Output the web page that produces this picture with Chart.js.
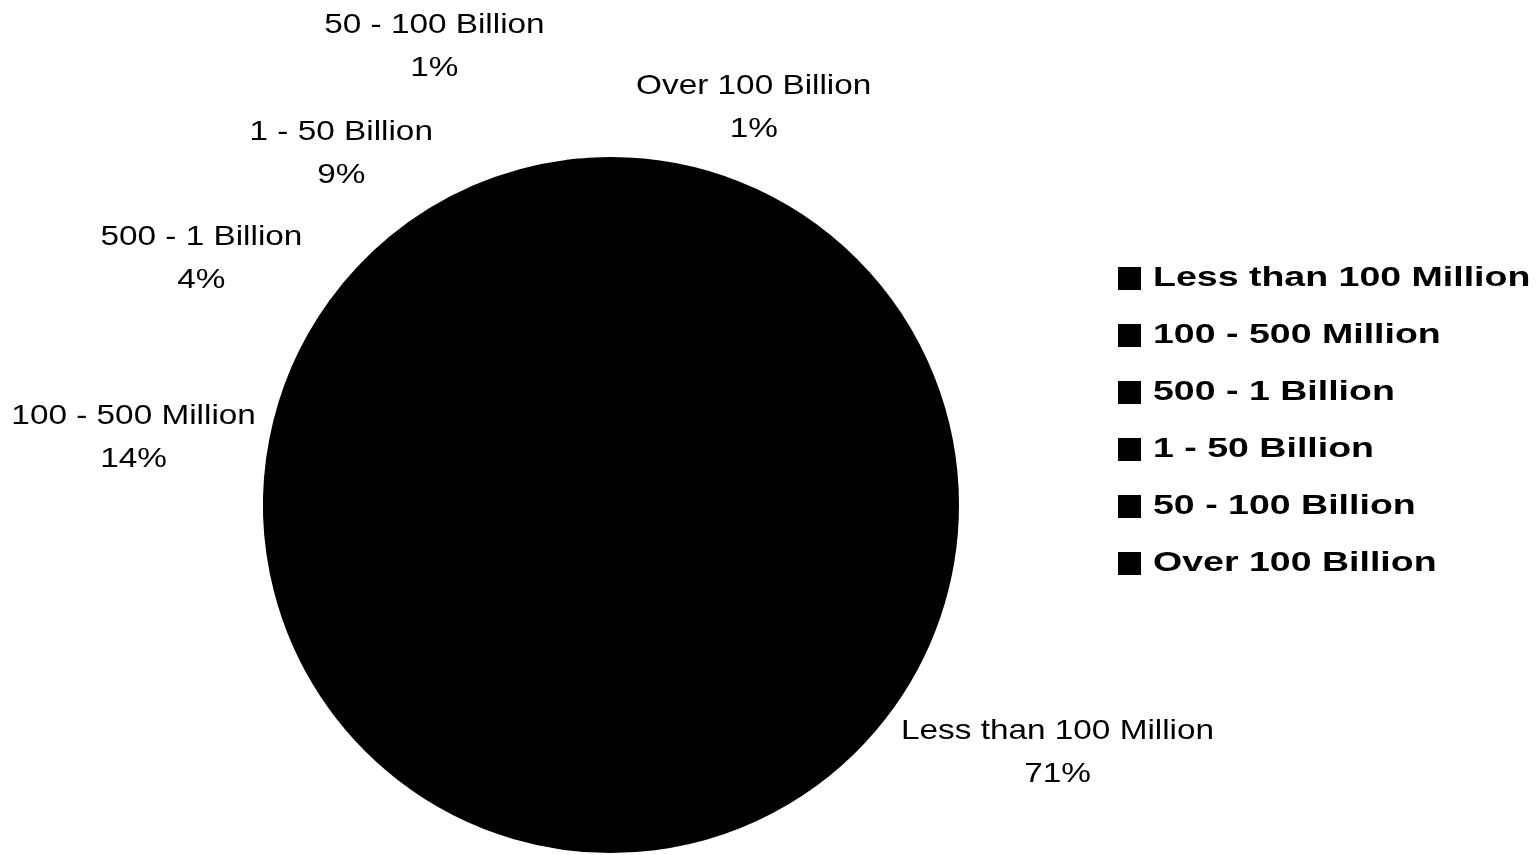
<!DOCTYPE html>
<html>
<head>
<meta charset="utf-8">
<script src="https://cdn.jsdelivr.net/npm/chart.js@4/dist/chart.umd.min.js"></script>
<style>
    html, body { margin: 0; padding: 0; background: #fff; }
    #wrap { width: 1540px; height: 855px; }
</style>
</head>
<body>
<div id="wrap"><canvas id="assetPie"></canvas></div>
<script>
// Asset size groups and their share (%)
const sizeGroups = ['Less than 100 Million', '100 - 500 Million', '500 - 1 Billion', '1 - 50 Billion', '50 - 100 Billion', 'Over 100 Billion'];
const shares = [71, 14, 4, 9, 1, 1];

// where each slice label sits: angle clockwise from 12 o'clock, distance in pie radii
const labelSpots = [
    { angle: 118.9, dist: 1.47 },
    { angle: 278.2, dist: 1.39 },
    { angle: 301.2, dist: 1.38 },
    { angle: 322.6, dist: 1.28 },
    { angle: 339.0, dist: 1.42 },
    { angle: 19.7, dist: 1.22 }
];

// draw text squeezed/stretched horizontally
function drawWideText(ctx, text, x, y, sx) {
    ctx.save();
    ctx.translate(x, y);
    ctx.scale(sx, 1);
    ctx.fillText(text, 0, 0);
    ctx.restore();
}

const sliceLabels = {
    id: 'sliceLabels',
    afterDatasetsDraw(chart, args, opts) {
        const ctx = chart.ctx;
        const arcs = chart.getDatasetMeta(0).data;
        const values = chart.data.datasets[0].data;
        const total = values.reduce((a, b) => a + b, 0);
        ctx.save();
        ctx.fillStyle = '#000';
        ctx.font = '28px "Liberation Sans", Arial, sans-serif';
        ctx.textAlign = 'center';
        ctx.textBaseline = 'middle';
        arcs.forEach((arc, i) => {
            const spot = opts.spots[i];
            const a = spot.angle * Math.PI / 180;
            const cx = arc.x + Math.sin(a) * arc.outerRadius * spot.dist;
            const cy = arc.y - Math.cos(a) * arc.outerRadius * spot.dist;
            const pct = Math.round(values[i] / total * 100) + '%';
            drawWideText(ctx, chart.data.labels[i], cx, cy - 20, 1.19);
            drawWideText(ctx, pct, cx, cy + 23, 1.19);
        });
        ctx.restore();
    }
};

const sideLegend = {
    id: 'sideLegend',
    afterDraw(chart, args, opts) {
        const ctx = chart.ctx;
        ctx.save();
        ctx.font = 'bold 28px "Liberation Sans", Arial, sans-serif';
        ctx.textAlign = 'left';
        ctx.textBaseline = 'middle';
        chart.data.labels.forEach((label, i) => {
            const y = opts.top + i * opts.step;
            ctx.fillStyle = chart.data.datasets[0].backgroundColor[i];
            ctx.fillRect(opts.left, y - 11, 23, 23);
            ctx.fillStyle = '#000';
            drawWideText(ctx, label, opts.left + 35, y, 1.34);
        });
        ctx.restore();
    }
};

new Chart(document.getElementById('assetPie'), {
    type: 'pie',
    data: {
        labels: sizeGroups,
        datasets: [{
            data: shares,
            backgroundColor: sizeGroups.map(() => '#000000'),
            borderColor: '#000000',
            borderWidth: 2,
            borderJoinStyle: 'round'
        }]
    },
    options: {
        responsive: true,
        maintainAspectRatio: false,
        animation: false,
        layout: { padding: { left: 263, top: 157, right: 581, bottom: 2 } },
        plugins: {
            legend: { display: false },
            tooltip: { enabled: false },
            sliceLabels: { spots: labelSpots },
            sideLegend: { left: 1118, top: 278, step: 57 }
        }
    },
    plugins: [sliceLabels, sideLegend]
});
</script>
</body>
</html>
